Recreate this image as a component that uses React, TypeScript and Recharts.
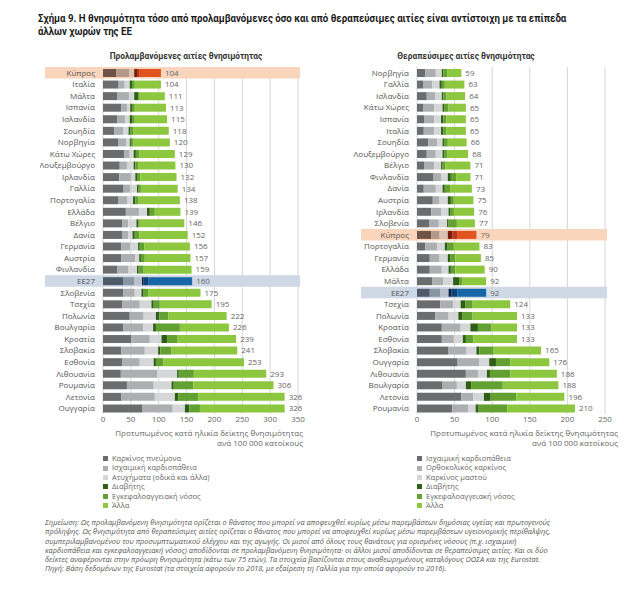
import {
  BarChart,
  Bar,
  XAxis,
  YAxis,
  CartesianGrid,
  Cell,
  LabelList,
  ReferenceArea,
} from "recharts";

const FONT = "'Open Sans', 'Noto Sans', sans-serif";
const TITLE_FONT = "'Roboto', sans-serif";

const CYPRUS = "Κύπρος";
const EU = "ΕΕ27";

// Preventable causes (left panel)
const PREV_COUNTRIES = [
  "Κύπρος", "Ιταλία", "Μάλτα", "Ισπανία", "Ισλανδία", "Σουηδία", "Νορβηγία",
  "Κάτω Χώρες", "Λουξεμβούργο", "Ιρλανδία", "Γαλλία", "Πορτογαλία", "Ελλάδα",
  "Βέλγιο", "Δανία", "Γερμανία", "Αυστρία", "Φινλανδία", "ΕΕ27", "Σλοβενία",
  "Τσεχία", "Πολωνία", "Βουλγαρία", "Κροατία", "Σλοβακία", "Εσθονία",
  "Λιθουανία", "Ρουμανία", "Λετονία", "Ουγγαρία",
];
const PREV_LUNG = [24, 28, 26, 33, 26, 20, 28, 38, 30, 29, 37, 28, 41, 35, 35, 33, 33, 26, 36, 36, 35, 48, 36, 51, 33, 35, 32, 43, 33, 71];
const PREV_IHD = [23, 11, 21, 10, 14, 16, 14, 10, 13, 21, 12, 16, 24, 10, 10, 16, 25, 20, 20, 21, 31, 25, 36, 33, 42, 31, 65, 48, 60, 54];
const PREV_ACCIDENTS = [9, 9, 9, 6, 8, 10, 6, 7, 12, 8, 12, 10, 14, 15, 8, 14, 7, 15, 14, 12, 21, 22, 18, 21, 24, 25, 36, 32, 36, 22];
const PREV_DIABETES = [5, 4, 7, 3, 4, 3, 2, 4, 3, 3, 3, 4, 5, 3, 4, 3, 3, 3, 3, 4, 4, 6, 5, 10, 4, 4, 3, 4, 6, 8];
const PREV_STROKE = [5, 5, 3, 5, 5, 5, 5, 6, 5, 6, 4, 6, 9, 3, 8, 8, 7, 9, 9, 8, 11, 16, 43, 19, 20, 13, 27, 35, 36, 19];
const PREV_OTHER = [38, 47, 45, 56, 58, 64, 65, 64, 67, 65, 66, 74, 46, 80, 87, 82, 82, 86, 78, 94, 93, 105, 88, 105, 118, 145, 130, 144, 155, 152];
const PREV_TICKS = [0, 50, 100, 150, 200, 250, 300, 350];
const PREV_LEGEND = [
  "Καρκίνος πνεύμονα",
  "Ισχαιμική καρδιοπάθεια",
  "Ατυχήματα (οδικά και άλλα)",
  "Διαβήτης",
  "Εγκεφαλοαγγειακή νόσος",
  "Άλλα",
];

// Treatable causes (right panel)
const TREAT_COUNTRIES = [
  "Νορβηγία", "Γαλλία", "Ισλανδία", "Κάτω Χώρες", "Ισπανία", "Ιταλία",
  "Σουηδία", "Λουξεμβούργο", "Βέλγιο", "Φινλανδία", "Δανία", "Αυστρία",
  "Ιρλανδία", "Σλοβενία", "Κύπρος", "Πορτογαλία", "Γερμανία", "Ελλάδα",
  "Μάλτα", "ΕΕ27", "Τσεχία", "Πολωνία", "Κροατία", "Εσθονία", "Σλοβακία",
  "Ουγγαρία", "Λιθουανία", "Βουλγαρία", "Λετονία", "Ρουμανία",
];
const TREAT_IHD = [11, 8, 13, 8, 10, 9, 15, 13, 10, 22, 9, 21, 19, 16, 19, 11, 17, 17, 20, 17, 31, 24, 33, 33, 42, 54, 65, 34, 59, 47];
const TREAT_COLORECTAL = [14, 12, 11, 15, 13, 14, 12, 12, 13, 10, 16, 9, 13, 13, 11, 16, 13, 16, 15, 14, 17, 18, 25, 16, 24, 29, 16, 19, 16, 21];
const TREAT_BREAST = [8, 10, 9, 11, 9, 9, 7, 9, 9, 9, 9, 11, 10, 11, 11, 10, 11, 9, 13, 11, 10, 13, 13, 12, 13, 13, 12, 12, 14, 10];
const TREAT_DIABETES = [2, 3, 2, 2, 3, 3, 2, 2, 2, 4, 3, 4, 2, 2, 6, 3, 3, 3, 8, 4, 6, 5, 10, 4, 4, 9, 4, 7, 9, 4];
const TREAT_STROKE = [5, 4, 4, 6, 4, 4, 5, 4, 4, 7, 7, 4, 5, 11, 7, 9, 7, 6, 4, 8, 10, 14, 18, 10, 19, 19, 27, 42, 34, 38];
const TREAT_OTHER = [19, 26, 25, 23, 26, 26, 25, 28, 33, 19, 29, 26, 27, 24, 25, 34, 34, 39, 32, 38, 50, 59, 34, 58, 63, 52, 62, 74, 64, 90];
const TREAT_TICKS = [0, 50, 100, 150, 200, 250];
const TREAT_LEGEND = [
  "Ισχαιμική καρδιοπάθεια",
  "Ορθοκολικός καρκίνος",
  "Καρκίνος μαστού",
  "Διαβήτης",
  "Εγκεφαλοαγγειακή νόσος",
  "Άλλα",
];

const NOTES = [
  "Σημείωση: Ως προλαμβανόμενη θνησιμότητα ορίζεται ο θάνατος που μπορεί να αποφευχθεί κυρίως μέσω παρεμβάσεων δημόσιας υγείας και πρωτογενούς",
  "πρόληψης. Ως θνησιμότητα από θεραπεύσιμες αιτίες ορίζεται ο θάνατος που μπορεί να αποφευχθεί κυρίως μέσω παρεμβάσεων υγειονομικής περίθαλψης,",
  "συμπεριλαμβανομένου του προσυμπτωματικού ελέγχου και της αγωγής. Οι μισοί από όλους τους θανάτους για ορισμένες νόσους (π.χ. ισχαιμική",
  "καρδιοπάθεια και εγκεφαλοαγγειακή νόσος) αποδίδονται σε προλαμβανόμενη θνησιμότητα· οι άλλοι μισοί αποδίδονται σε θεραπεύσιμες αιτίες. Και οι δύο",
  "δείκτες αναφέρονται στην πρόωρη θνησιμότητα (κάτω των 75 ετών). Τα στοιχεία βασίζονται στους αναθεωρημένους καταλόγους ΟΟΣΑ και της Eurostat.",
  "Πηγή: Βάση δεδομένων της Eurostat (τα στοιχεία αφορούν το 2018, με εξαίρεση τη Γαλλία για την οποία αφορούν το 2016).",
];

const BASE_COLORS = ["#6b6c6e", "#adaeb0", "#d5d6d7", "#2f5f17", "#62a032", "#8dc63f"];
const CY_COLORS = ["#6e5447", "#b49888", "#d8c3b4", "#7a1c08", "#b9381a", "#e2541f"];
const EU_COLORS = ["#4f5a69", "#8a95a3", "#b7c0cc", "#0b2446", "#0f4479", "#1766a8"];
const KEYS = ["s0", "s1", "s2", "s3", "s4", "s5"];

const colorFor = (name: string, idx: number) => {
  if (name === CYPRUS) return CY_COLORS[idx];
  if (name === EU) return EU_COLORS[idx];
  return BASE_COLORS[idx];
};

const buildRows = (countries: string[], series: number[][]) =>
  countries.map((name, i) => {
    const row: Record<string, any> = { name };
    let total = 0;
    series.forEach((s, k) => {
      row[`s${k}`] = s[i];
      total += s[i];
    });
    row.total = total;
    return row;
  });

// plain tick so long names stay on one line
const CountryTick = (props: any) => {
  const { x, y, payload } = props;
  return (
    <text x={x} y={y} dy={3} textAnchor="end" fontSize={8} fill="#555" fontFamily={FONT}>
      {payload.value}
    </text>
  );
};

const ValueTick = (props: any) => {
  const { x, y, payload } = props;
  return (
    <text x={x} y={y} dy={1} textAnchor="middle" fontSize={8} fill="#666" fontFamily={FONT}>
      {payload.value}
    </text>
  );
};

type PanelProps = {
  countries: string[];
  series: number[][];
  ticks: number[];
  left: number;
  width: number;
  axisWidth: number;
  bandExtend: number;
};

const Panel = ({ countries, series, ticks, left, width, axisWidth, bandExtend }: PanelProps) => {
  const rows = buildRows(countries, series);
  const max = ticks[ticks.length - 1];

  const band = (fill: string) => (props: any) => (
    <rect
      x={props.x - bandExtend}
      y={props.y}
      width={props.width + bandExtend + 2}
      height={props.height}
      fill={fill}
    />
  );

  return (
    <div style={{ position: "absolute", left, top: 60 }}>
      <BarChart
        width={width}
        height={370}
        data={rows}
        layout="vertical"
        margin={{ top: 7, right: 20, bottom: 0, left: 0 }}
        barCategoryGap={2}
      >
        <ReferenceArea y1={CYPRUS} y2={CYPRUS} x1={0} x2={max} shape={band("#f9d6bb")} />
        <ReferenceArea y1={EU} y2={EU} x1={0} x2={max} shape={band("#cfd9e6")} />
        <CartesianGrid horizontal={false} stroke="#d6d6d6" />
        <XAxis
          type="number"
          domain={[0, max]}
          ticks={ticks}
          interval={0}
          axisLine={false}
          tickLine={false}
          height={16}
          tickMargin={1}
          tick={<ValueTick />}
        />
        <YAxis
          type="category"
          dataKey="name"
          width={axisWidth}
          axisLine={false}
          tickLine={false}
          interval={0}
          tick={<CountryTick />}
        />
        {KEYS.map((k, idx) => (
          <Bar key={k} dataKey={k} stackId="a" barSize={8} isAnimationActive={false}>
            {rows.map((r) => (
              <Cell key={`${k}-${r.name}`} fill={colorFor(r.name, idx)} />
            ))}
            {idx === KEYS.length - 1 && (
              <LabelList
                dataKey="total"
                position="right"
                offset={4}
                fill="#666"
                fontSize={8}
                fontFamily={FONT}
              />
            )}
          </Bar>
        ))}
      </BarChart>
    </div>
  );
};

const Legend = ({ items, left }: { items: string[]; left: number }) => (
  <div style={{ position: "absolute", left, top: 454, fontSize: 7.5, color: "#666", lineHeight: "9.4px" }}>
    {items.map((t, i) => (
      <div key={t} style={{ display: "flex", alignItems: "center", whiteSpace: "nowrap" }}>
        <span style={{ width: 5, height: 5, background: BASE_COLORS[i], marginRight: 4, display: "inline-block" }} />
        {t}
      </div>
    ))}
  </div>
);

const AxisTitle = ({ right }: { right: number }) => (
  <div
    style={{
      position: "absolute",
      right,
      top: 428,
      fontSize: 8,
      color: "#666",
      textAlign: "right",
      lineHeight: "10px",
      whiteSpace: "nowrap",
    }}
  >
    <div>Προτυπωμένος κατά ηλικία δείκτης θνησιμότητας</div>
    <div>ανά 100 000 κατοίκους</div>
  </div>
);

const subtitleStyle = (center: number): React.CSSProperties => ({
  position: "absolute",
  left: center,
  top: 50,
  transform: "translateX(-50%) scaleX(0.88)",
  fontFamily: TITLE_FONT,
  fontWeight: 700,
  fontSize: 9.5,
  color: "#333",
  whiteSpace: "nowrap",
});

export default function App() {
  return (
    <div
      style={{
        position: "absolute",
        left: 0,
        top: 0,
        width: 625,
        height: 600,
        background: "#fff",
        fontFamily: FONT,
        overflow: "hidden",
      }}
    >
      <div
        style={{
          position: "absolute",
          left: 38,
          top: 13,
          fontFamily: TITLE_FONT,
          fontWeight: 700,
          fontSize: 11,
          lineHeight: "12.5px",
          color: "#1a1a1a",
          whiteSpace: "nowrap",
          transform: "scaleX(0.88)",
          transformOrigin: "left top",
        }}
      >
        <div>Σχήμα 9. Η θνησιμότητα τόσο από προλαμβανόμενες όσο και από θεραπεύσιμες αιτίες είναι αντίστοιχη με τα επίπεδα</div>
        <div>άλλων χωρών της ΕΕ</div>
      </div>

      <div style={subtitleStyle(186)}>Προλαμβανόμενες αιτίες θνησιμότητας</div>
      <div style={subtitleStyle(466)}>Θεραπεύσιμες αιτίες θνησιμότητας</div>

      <Panel
        countries={PREV_COUNTRIES}
        series={[PREV_LUNG, PREV_IHD, PREV_ACCIDENTS, PREV_DIABETES, PREV_STROKE, PREV_OTHER]}
        ticks={PREV_TICKS}
        left={40}
        width={278}
        axisWidth={63}
        bandExtend={58}
      />
      <Panel
        countries={TREAT_COUNTRIES}
        series={[TREAT_IHD, TREAT_COLORECTAL, TREAT_BREAST, TREAT_DIABETES, TREAT_STROKE, TREAT_OTHER]}
        ticks={TREAT_TICKS}
        left={340}
        width={285}
        axisWidth={77}
        bandExtend={56}
      />

      <AxisTitle right={625 - 303} />
      <AxisTitle right={625 - 618} />

      <Legend items={PREV_LEGEND} left={103} />
      <Legend items={TREAT_LEGEND} left={417} />

      <div
        style={{
          position: "absolute",
          left: 45,
          top: 518,
          fontSize: 7.4,
          fontStyle: "italic",
          color: "#555",
          lineHeight: "9.3px",
          whiteSpace: "nowrap",
        }}
      >
        {NOTES.map((n) => (
          <div key={n}>{n}</div>
        ))}
      </div>
    </div>
  );
}
